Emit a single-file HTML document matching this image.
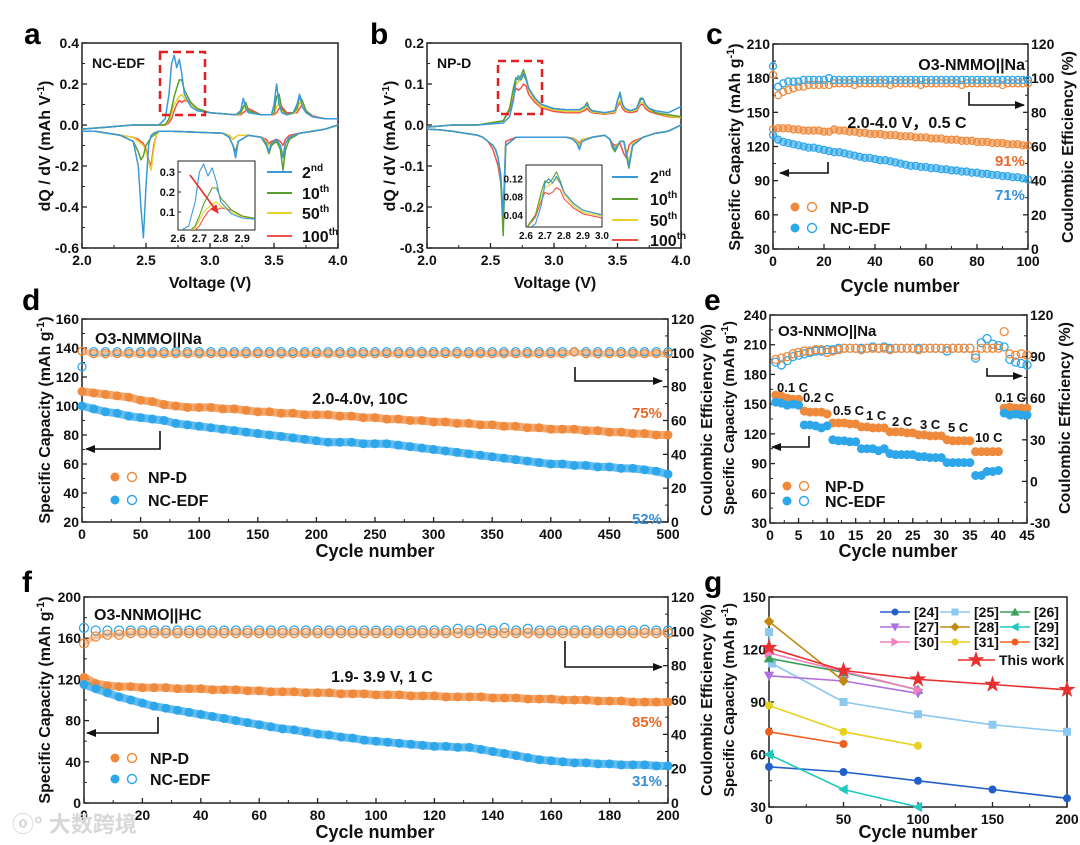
<!DOCTYPE html>
<html><head><meta charset="utf-8">
<style>
html,body{margin:0;padding:0;background:#fff;}
svg{display:block;font-family:"Liberation Sans",Arial,sans-serif;font-weight:bold;}
</style></head>
<body>
<svg id="fig" width="1080" height="845" viewBox="0 0 1080 845" xmlns="http://www.w3.org/2000/svg">
<defs>
<marker id="ah" markerWidth="10" markerHeight="8" refX="9" refY="4" orient="auto" markerUnits="userSpaceOnUse"><path d="M0,0 L10,4 L0,8 z" fill="#111"/></marker>
<marker id="ahr" markerWidth="9" markerHeight="8" refX="8" refY="4" orient="auto" markerUnits="userSpaceOnUse"><path d="M0,0 L9,4 L0,8 z" fill="#e8302a"/></marker>
<clipPath id="clipA"><rect x="178" y="161" width="77" height="69"/></clipPath>
<clipPath id="clipB"><rect x="526" y="165" width="76" height="62"/></clipPath>
</defs>
</svg>
<script>
// ---------- DATA ----------
const aChgV = [2.0,2.2,2.4,2.6,2.65,2.68,2.70,2.72,2.74,2.76,2.78,2.80,2.85,2.9,3.0,3.1,3.2,3.24,3.26,3.28,3.3,3.4,3.48,3.5,3.52,3.54,3.56,3.6,3.65,3.68,3.7,3.72,3.75,3.8,3.9,4.0];
const aDisV = [2.0,2.1,2.2,2.3,2.4,2.44,2.46,2.48,2.50,2.52,2.54,2.56,2.58,2.6,2.62,2.7,2.9,3.1,3.15,3.18,3.2,3.22,3.3,3.4,3.44,3.46,3.48,3.52,3.55,3.57,3.59,3.62,3.7,3.8,3.9,4.0];
const cycleNames = ["2nd","10th","50th","100th"];
const aChg2 = [-0.02,-0.01,0,0.0,0.03,0.15,0.30,0.34,0.28,0.32,0.25,0.15,0.09,0.07,0.06,0.055,0.05,0.07,0.13,0.08,0.06,0.05,0.05,0.10,0.20,0.10,0.06,0.05,0.06,0.10,0.15,0.09,0.06,0.04,0.03,0.03];
const aChg10 = [-0.02,-0.01,0,0,0.0,0.03,0.08,0.14,0.18,0.22,0.22,0.17,0.11,0.08,0.06,0.055,0.05,0.06,0.09,0.11,0.07,0.05,0.05,0.06,0.14,0.15,0.08,0.05,0.06,0.08,0.14,0.12,0.07,0.04,0.03,0.03];
const aChg50 = [-0.02,-0.01,0,0,0.0,0.02,0.06,0.10,0.12,0.14,0.15,0.13,0.10,0.075,0.06,0.055,0.05,0.055,0.08,0.09,0.065,0.05,0.05,0.055,0.09,0.11,0.07,0.05,0.055,0.07,0.11,0.10,0.065,0.04,0.03,0.03];
const aChg100 = [-0.02,-0.01,0,0,0.0,0.01,0.03,0.07,0.10,0.12,0.11,0.12,0.11,0.08,0.06,0.055,0.05,0.05,0.06,0.07,0.08,0.05,0.05,0.05,0.06,0.08,0.09,0.06,0.06,0.06,0.08,0.10,0.07,0.045,0.03,0.03];
const aDis2 = [-0.03,-0.03,-0.04,-0.05,-0.08,-0.2,-0.4,-0.55,-0.3,-0.1,-0.05,-0.04,-0.035,-0.03,-0.03,-0.03,-0.035,-0.04,-0.06,-0.1,-0.16,-0.08,-0.05,-0.06,-0.09,-0.13,-0.09,-0.07,-0.1,-0.16,-0.09,-0.06,-0.04,-0.03,-0.02,0.0];
const aDis10 = [-0.03,-0.03,-0.04,-0.05,-0.08,-0.13,-0.17,-0.15,-0.1,-0.08,-0.06,-0.05,-0.04,-0.03,-0.03,-0.03,-0.035,-0.04,-0.06,-0.1,-0.13,-0.08,-0.05,-0.06,-0.1,-0.14,-0.1,-0.08,-0.12,-0.22,-0.12,-0.07,-0.04,-0.03,-0.02,0.0];
const aDis50 = [-0.03,-0.03,-0.04,-0.05,-0.06,-0.08,-0.09,-0.1,-0.13,-0.18,-0.22,-0.12,-0.05,-0.03,-0.03,-0.03,-0.035,-0.04,-0.05,-0.07,-0.06,-0.05,-0.05,-0.06,-0.08,-0.1,-0.09,-0.08,-0.1,-0.14,-0.09,-0.06,-0.04,-0.03,-0.02,0.0];
const aDis100 = [-0.03,-0.03,-0.04,-0.05,-0.06,-0.07,-0.08,-0.09,-0.12,-0.17,-0.2,-0.1,-0.05,-0.03,-0.03,-0.03,-0.035,-0.04,-0.05,-0.07,-0.06,-0.05,-0.05,-0.06,-0.07,-0.09,-0.08,-0.07,-0.08,-0.1,-0.07,-0.05,-0.04,-0.03,-0.02,0.0];

const bChg2 = [-0.005,0,0,0.005,0.02,0.06,0.11,0.12,0.11,0.125,0.11,0.09,0.065,0.05,0.04,0.037,0.037,0.045,0.05,0.04,0.035,0.03,0.035,0.06,0.08,0.05,0.04,0.035,0.04,0.06,0.065,0.05,0.04,0.035,0.03,0.045];
const bChg10 = [-0.005,0,0,0.01,0.04,0.09,0.115,0.11,0.12,0.135,0.115,0.09,0.065,0.05,0.04,0.037,0.037,0.045,0.055,0.04,0.035,0.03,0.035,0.06,0.075,0.05,0.04,0.035,0.04,0.065,0.065,0.05,0.04,0.03,0.025,0.02];
const bChg50 = [-0.005,0,0,0.01,0.04,0.08,0.10,0.105,0.11,0.12,0.11,0.085,0.06,0.045,0.037,0.033,0.033,0.04,0.045,0.037,0.032,0.028,0.032,0.05,0.06,0.045,0.037,0.033,0.037,0.055,0.055,0.045,0.037,0.03,0.022,0.018];
const bChg100 = [-0.005,0,0,0.01,0.035,0.07,0.09,0.085,0.09,0.10,0.095,0.075,0.055,0.042,0.033,0.03,0.03,0.035,0.04,0.033,0.03,0.026,0.03,0.045,0.055,0.04,0.033,0.03,0.033,0.05,0.05,0.04,0.033,0.028,0.02,0.018];
const bDis2 = [-0.01,-0.012,-0.015,-0.02,-0.025,-0.03,-0.035,-0.04,-0.045,-0.05,-0.06,-0.08,-0.12,-0.22,-0.05,-0.03,-0.03,-0.03,-0.035,-0.045,-0.06,-0.04,-0.03,-0.025,-0.035,-0.05,-0.06,-0.04,-0.04,-0.07,-0.1,-0.05,-0.03,-0.02,-0.015,0.0];
const bDis10 = [-0.01,-0.012,-0.015,-0.02,-0.025,-0.03,-0.035,-0.04,-0.045,-0.05,-0.06,-0.08,-0.13,-0.27,-0.05,-0.03,-0.03,-0.03,-0.035,-0.045,-0.058,-0.04,-0.03,-0.025,-0.035,-0.055,-0.065,-0.04,-0.04,-0.075,-0.105,-0.05,-0.03,-0.02,-0.015,0.0];
const bDis50 = [-0.01,-0.012,-0.015,-0.02,-0.025,-0.03,-0.035,-0.04,-0.045,-0.05,-0.06,-0.08,-0.13,-0.25,-0.05,-0.03,-0.03,-0.03,-0.033,-0.04,-0.05,-0.035,-0.03,-0.025,-0.035,-0.05,-0.055,-0.04,-0.04,-0.065,-0.09,-0.045,-0.03,-0.02,-0.015,0.0];
const bDis100 = [-0.01,-0.012,-0.015,-0.02,-0.025,-0.03,-0.035,-0.04,-0.05,-0.06,-0.08,-0.1,-0.14,-0.22,-0.04,-0.03,-0.03,-0.03,-0.032,-0.038,-0.045,-0.035,-0.03,-0.025,-0.035,-0.045,-0.05,-0.045,-0.07,-0.08,-0.05,-0.04,-0.03,-0.02,-0.015,0.0];

// panel c (cycles 0..100 every 2)
const cCapNPD = [135,136,136,136,135,135,134,134,134,134,133,133,135,134,134,133,133,132,132,131,131,131,130,130,130,129,129,129,128,128,128,127,127,127,126,126,126,125,125,125,124,124,124,123,123,123,122,122,122,121,121];
const cCapNC = [130,126,124,123,122,121,120,119,119,118,117,116,115,115,114,113,112,111,110,110,109,108,108,107,106,105,104,103,103,102,102,101,101,100,100,99,99,98,98,97,97,96,96,95,95,94,94,93,93,92,91];
const cCENPD = [102,90,92,93,94,95,95,96,96,96,96,96,97,97,97,97,96,97,97,97,97,97,97,96,97,97,97,97,97,96,97,97,97,97,97,97,97,96,97,97,97,97,97,97,97,96,97,97,97,97,97];
const cCENC = [107,95,97,98,98,98,99,99,99,99,99,100,99,99,99,99,99,99,99,99,99,99,99,99,99,99,99,99,99,99,99,99,99,99,99,99,99,99,99,99,99,99,99,99,99,99,99,99,99,99,99];

// panel d (cycles 0..500 every 10)
const dCapNPD = [110,109,108,107,106,104,103,101,100,99,99,99,98,98,97,96,96,95,95,94,94,94,93,93,92,92,91,91,90,90,89,89,88,88,87,87,86,86,85,85,84,84,84,83,83,82,82,81,81,80,80];
const dCapNC = [100,98,96,95,93,92,91,90,88,87,86,85,84,83,82,81,80,79,78,77,76,75,75,75,74,74,74,73,72,71,70,69,68,67,66,65,64,63,62,61,60,60,59,59,58,58,57,57,56,55,53];
const dCENPD = [101,99.5,99.5,99.5,99.5,99.5,99.5,99.5,99.5,99.5,99.5,99.5,99.5,99.5,99.5,99.5,99.5,99.5,99.5,99.5,99.5,99.5,99.5,99.5,99.5,99.5,99.5,99.5,99.5,99.5,99.5,99.5,99.5,99.5,99.5,99.5,99.5,99.5,99.5,99.5,99.5,99.5,100.5,99.5,99.5,99.5,99.5,99.5,99.5,99.5,99.5];
const dCENC = [91.7,100.7,100.7,100.7,100.7,100.7,100.7,100.7,100.7,100.7,100.7,100.7,100.7,100.7,100.7,100.7,100.7,100.7,100.7,100.7,100.7,100.7,100.7,100.7,100.7,100.7,100.7,100.7,100.7,100.7,100.7,100.7,100.7,100.7,100.7,100.7,100.7,100.7,100.7,100.7,100.7,100.7,100.7,100.7,100.7,100.7,100.7,100.7,100.7,100.7,100.7];

// panel e (cycles 1..45)
const eCapNPD = [159,158,156,155,155,143,142,142,142,140,131,131,131,130,130,127,127,126,126,126,122,122,122,121,121,119,119,118,118,118,114,113,113,113,113,102,102,102,102,102,146,147,146,146,146];
const eCapNC = [152,151,149,150,149,129,129,128,126,128,114,113,113,112,112,105,105,105,103,105,100,99,99,99,99,97,97,96,96,96,91,91,91,91,91,78,78,82,82,83,141,139,140,139,139];
const eCENPD = [88,89,90,92,93,94,94,95,95,93,94,95,96,96,96,95,96,96,96,96,95,96,96,96,96,95,96,96,96,96,96,96,96,96,96,91,96,96,96,96,108,92,91,92,91];
const eCENC = [86,84,87,90,91,92,93,94,94,95,95,96,96,96,96,96,96,97,96,97,96,96,96,96,96,96,96,96,96,96,94,96,96,96,96,89,100,103,99,98,97,88,86,85,84];
const eRates = ["0.1 C","0.2 C","0.5 C","1 C","2 C","3 C","5 C","10 C","0.1 C"];

// panel f (cycles 0..200 every 4)
const fCapNPD = [122,116,114,113,113,112,112,112,111,111,111,110,110,110,109,109,108,108,108,107,107,107,106,106,106,105,105,105,104,104,104,103,103,103,103,102,102,102,101,101,101,100,100,100,99,99,99,98,98,98,98];
const fCapNC = [115,111,107,103,100,97,94,92,90,88,86,84,82,80,78,76,74,72,71,69,67,66,64,63,61,60,59,58,57,56,55,55,54,54,52,50,48,46,44,42,41,40,39,39,38,38,37,37,37,36,36];
const fCENPD = [93,97,98,98,99,99,99,99,99,99,99,99,99,99,99,99,99,99,99,99,99,99,99,99,99,99,99,99,99,99,99,99,99,99,99,99,99,99,99,99,99,99,99,99,99,99,99,99,99,99,99];
const fCENC = [102,100.5,100.5,100.5,100.5,100.5,100.5,100.5,100.5,100.5,100.5,100.5,100.5,100.5,100.5,100.5,100.5,100.5,100.5,100.5,100.5,100.5,100.5,100.5,100.5,100.5,100.5,100.5,100.5,100.5,100.5,100.5,101.5,100.5,101.5,100.5,102,100.5,101.5,100.5,100.5,100.5,100.5,100.5,100.5,100.5,100.5,100.5,101,100.5,100.5];

// panel g
const gRefs = ["[24]","[25]","[26]","[27]","[28]","[29]","[30]","[31]","[32]","This work"];
const gX24=[0,50,100,150,200], gY24=[53,50,45,40,35];
const gX25=[0,2,50,100,150,200], gY25=[130,112,90,83,77,73];
const gX26=[0,50,100], gY26=[115,107,97];
const gX27=[0,50,100], gY27=[105,102,95];
const gX28=[0,50], gY28=[136,102];
const gX29=[0,50,100], gY29=[60,40,30];
const gX30=[0,100], gY30=[118,97];
const gX31=[0,50,100], gY31=[88,73,65];
const gX32=[0,50], gY32=[73,66];
const gXTW=[0,50,100,150,200], gYTW=[121,108,103,100,97];

// ---------- DRAW ----------
const NS="http://www.w3.org/2000/svg";
const svg=document.getElementById('fig');
function el(tag,attrs,parent){const e=document.createElementNS(NS,tag);for(const k in attrs)e.setAttribute(k,attrs[k]);(parent||svg).appendChild(e);return e;}
function lin(d0,d1,r0,r1){return v=>r0+(v-d0)*(r1-r0)/(d1-d0);}
function txt(p,x,y,s,size,anchor,fill){const t=el('text',{x:x,y:y,'font-size':size,'text-anchor':anchor||'start',fill:fill||'#111'},p);t.textContent=s;return t;}
function rtxt(p,x,y,s,size){const t=el('text',{x:x,y:y,'font-size':size,'text-anchor':'middle',fill:'#111',transform:'rotate(-90 '+x+' '+y+')'},p);t.textContent=s;return t;}
function capTitle(p,x,y,size){const t=el('text',{x:x,y:y,'font-size':size,'text-anchor':'middle',fill:'#111',transform:'rotate(-90 '+x+' '+y+')'},p);
 t.appendChild(document.createTextNode('Specific Capacity (mAh g'));const s=el('tspan',{'font-size':size-5,dy:-6},t);s.textContent='-1';const s2=el('tspan',{dy:6},t);s2.textContent=')';return t;}
const COL={blue:'#3a9ad9',green:'#5a9e2e',yellow:'#e8d22a',red:'#f0504a',or:'#ef8a3c',sb:'#2ea6ea'};

function panelLetter(x,y,s){const t=txt(svg,x,y,s,30,'start','#000');
 
 }

function axes(g,b,xr,yr,xt,xl,yt,yl,opt){
 opt=opt||{};
 const X=lin(xr[0],xr[1],b.x0,b.x1),Y=lin(yr[0],yr[1],b.y1,b.y0);
 const fr=el('rect',{x:b.x0,y:b.y0,width:b.x1-b.x0,height:b.y1-b.y0,fill:'none',stroke:'#222','stroke-width':1.5},g);
 
 
 const fs=opt.fs||14;
 xt.forEach((v,i)=>{const x=X(v);el('line',{x1:x,x2:x,y1:b.y1,y2:b.y1-5,stroke:'#222','stroke-width':1.3},g);
  if(i<xt.length-1){const m=X((v+xt[i+1])/2);el('line',{x1:m,x2:m,y1:b.y1,y2:b.y1-3,stroke:'#222','stroke-width':1},g);}
  const t=txt(g,x,b.y1+17,xl[i],fs,'middle');
  
  });
 yt.forEach((v,i)=>{const y=Y(v);el('line',{x1:b.x0,x2:b.x0+5,y1:y,y2:y,stroke:'#222','stroke-width':1.3},g);
  if(i<yt.length-1){const m=Y((v+yt[i+1])/2);el('line',{x1:b.x0,x2:b.x0+3,y1:m,y2:m,stroke:'#222','stroke-width':1},g);}
  if(yl[i]!==''){const t=txt(g,b.x0-3,y+5,yl[i],fs,'end');
  
  }});
 return {X,Y};
}
function rightAxis(g,b,yr,yt,yl){
 const Y=lin(yr[0],yr[1],b.y1,b.y0);
 yt.forEach((v,i)=>{const y=Y(v);el('line',{x1:b.x1,x2:b.x1-5,y1:y,y2:y,stroke:'#222','stroke-width':1.3},g);
  if(i<yt.length-1){const m=Y((v+yt[i+1])/2);el('line',{x1:b.x1,x2:b.x1-3,y1:m,y2:m,stroke:'#222','stroke-width':1},g);}
  const t=txt(g,b.x1+3,y+5,yl[i],14,'start');
  
  });
 return Y;
}
function poly(g,xs,ys,X,Y,color,w,extra){const pts=xs.map((x,i)=>X(x).toFixed(1)+','+Y(ys[i]).toFixed(1)).join(' ');
 const a={points:pts,fill:'none',stroke:color,'stroke-width':w,'stroke-linejoin':'round'};if(extra)Object.assign(a,extra);return el('polyline',a,g);}
function dots(g,xs,ys,X,Y,color,filled,r,name){
 xs.forEach((x,i)=>{const c=el('circle',{cx:X(x),cy:Y(ys[i]),r:r,fill:filled?color:'none',stroke:color,'stroke-width':filled?1:1.3},g);
 
 });
}
function arrow(g,pts,red){const p=el('polyline',{points:pts,fill:'none',stroke:red?'#e8302a':'#111','stroke-width':1.6,'marker-end':red?'url(#ahr)':'url(#ah)'},g);
 
 }

function legendCycle(g,x0,x1,tx,ys){
 const cols=[COL.blue,COL.green,COL.yellow,COL.red];
 cycleNames.forEach((n,i)=>{const l=el('line',{x1:x0,x2:x1,y1:ys[i],y2:ys[i],stroke:cols[i],'stroke-width':2},g);
  
  
  const t=el('text',{x:tx,y:ys[i]+6,'font-size':16,fill:'#111'},g);
  const m=n.match(/^(\d+)(\D+)$/);t.appendChild(document.createTextNode(m[1]));const s=el('tspan',{'font-size':10,dy:-7},t);s.textContent=m[2];
  
  });
}

// ===== Panel a =====
(function(){
 const g=el('g',{});
 panelLetter(24,44,'a');
 const b={x0:82,x1:338,y0:43,y1:248};
 const {X,Y}=axes(g,b,[2,4],[-0.6,0.4],[2,2.5,3,3.5,4],['2.0','2.5','3.0','3.5','4.0'],[-0.6,-0.4,-0.2,0,0.2,0.4],['-0.6','-0.4','-0.2','0.0','0.2','0.4']);
 const ch=[aChg2,aChg10,aChg50,aChg100],ds=[aDis2,aDis10,aDis50,aDis100],cols=[COL.blue,COL.green,COL.yellow,COL.red];
 [3,2,1,0].forEach(i=>{const p=poly(g,aChgV,ch[i],X,Y,cols[i],1.5);
  const q=poly(g,aDisV,ds[i],X,Y,cols[i],1.5);});
 const bx=el('rect',{x:160,y:52,width:45,height:63,fill:'none',stroke:'#e02020','stroke-width':2.5,'stroke-dasharray':'8,5'},g);
 
 const nt=txt(g,92,68,'NC-EDF',14,'start');
 const ib={x0:178,x1:255,y0:161,y1:230};
 const ig=el('g',{},g);
 el('rect',{x:ib.x0,y:ib.y0,width:77,height:69,fill:'#fff',stroke:'#222','stroke-width':1},ig);
 const IX=lin(2.6,2.96,ib.x0,ib.x1),IY=lin(0.01,0.355,ib.y1,ib.y0);
 const cg=el('g',{'clip-path':'url(#clipA)'},ig);
 [3,2,1,0].forEach(i=>poly(cg,aChgV,ch[i],IX,IY,cols[i],1.1));
 [0.1,0.2,0.3].forEach(v=>{txt(ig,ib.x0-3,IY(v)+4,v.toFixed(1),11,'end');el('line',{x1:ib.x0,x2:ib.x0+3,y1:IY(v),y2:IY(v),stroke:'#222'},ig);});
 [2.6,2.7,2.8,2.9].forEach(v=>{txt(ig,IX(v),ib.y1+12,v.toFixed(1),11,'middle');});
 arrow(ig,'190,175 218,213',true);
 legendCycle(g,267,292,302,[172,193,213,236]);
 const xt=txt(g,210,288,'Voltage (V)',16,'middle');
 const yt=el('text',{x:50,y:146,'font-size':16,'text-anchor':'middle',fill:'#111',transform:'rotate(-90 50 146)'},g);
 yt.appendChild(document.createTextNode('dQ / dV (mAh V'));const s=el('tspan',{'font-size':10,dy:-6},yt);s.textContent='-1';const s2=el('tspan',{dy:6},yt);s2.textContent=')';
 
})();

// ===== Panel b =====
(function(){
 const g=el('g',{});
 panelLetter(370,44,'b');
 const b={x0:427,x1:681,y0:43,y1:248};
 const {X,Y}=axes(g,b,[2,4],[-0.3,0.2],[2,2.5,3,3.5,4],['2.0','2.5','3.0','3.5','4.0'],[-0.3,-0.2,-0.1,0,0.1,0.2],['-0.3','-0.2','-0.1','0.0','0.1','0.2']);
 const ch=[bChg2,bChg10,bChg50,bChg100],ds=[bDis2,bDis10,bDis50,bDis100],cols=[COL.blue,COL.green,COL.yellow,COL.red];
 [3,2,1,0].forEach(i=>{const p=poly(g,aChgV,ch[i],X,Y,cols[i],1.5);
  const q=poly(g,aDisV,ds[i],X,Y,cols[i],1.5);});
 const bx=el('rect',{x:498,y:61,width:44,height:53,fill:'none',stroke:'#e02020','stroke-width':2.5,'stroke-dasharray':'8,5'},g);
 
 const nt=txt(g,437,68,'NP-D',14,'start');
 const ib={x0:526,x1:602,y0:165,y1:227};
 const ig=el('g',{},g);
 el('rect',{x:ib.x0,y:ib.y0,width:76,height:62,fill:'#fff',stroke:'#222','stroke-width':1},ig);
 const IX=lin(2.6,3.0,ib.x0,ib.x1),IY=lin(0.013,0.15,ib.y1,ib.y0);
 const cg=el('g',{'clip-path':'url(#clipB)'},ig);
 [3,2,1,0].forEach(i=>poly(cg,aChgV,ch[i],IX,IY,cols[i],1.1));
 [0.04,0.08,0.12].forEach(v=>{txt(ig,ib.x0-3,IY(v)+4,v.toFixed(2),10,'end');});
 [2.6,2.7,2.8,2.9,3.0].forEach(v=>{txt(ig,IX(v),ib.y1+12,v.toFixed(1),10,'middle');});
 legendCycle(g,612,638,650,[177,199,220,240]);
 const xt=txt(g,555,288,'Voltage (V)',16,'middle');
 const yt=el('text',{x:395,y:146,'font-size':16,'text-anchor':'middle',fill:'#111',transform:'rotate(-90 395 146)'},g);
 yt.appendChild(document.createTextNode('dQ / dV (mAh V'));const s=el('tspan',{'font-size':10,dy:-6},yt);s.textContent='-1';const s2=el('tspan',{dy:6},yt);s2.textContent=')';
 
})();

function capLegend(g,mx,tx,y1,y2){
 [[COL.or,'NP-D',y1],[COL.sb,'NC-EDF',y2]].forEach(a=>{
  el('circle',{cx:mx,cy:a[2],r:4.5,fill:a[0]},g);el('circle',{cx:mx+17,cy:a[2],r:4.5,fill:'none',stroke:a[0],'stroke-width':1.4},g);
  const t=txt(g,tx,a[2]+6,a[1],16,'start');
  
  });
}

// ===== Panel c =====
(function(){
 const g=el('g',{});
 panelLetter(706,44,'c');
 const b={x0:773,x1:1028,y0:44,y1:249};
 const {X,Y}=axes(g,b,[0,100],[30,210],[0,20,40,60,80,100],['0','20','40','60','80','100'],[30,60,90,120,150,180,210],['30','60','90','120','150','180','210']);
 const YR=rightAxis(g,b,[0,120],[0,20,40,60,80,100,120],['0','20','40','60','80','100','120']);
 const cyc=cCapNPD.map((_,i)=>i*2);
 dots(g,cyc,cCENPD,X,YR,COL.or,false,3.5,'ce-point-npd');
 dots(g,cyc,cCENC,X,YR,COL.sb,false,3.5,'ce-point-ncedf');
 poly(g,cyc,cCapNPD,X,Y,COL.or,5,{opacity:0.6});
 poly(g,cyc,cCapNC,X,Y,COL.sb,5,{opacity:0.6});
 dots(g,cyc,cCapNPD,X,Y,COL.or,false,3.5,'capacity-point-npd');
 dots(g,cyc,cCapNC,X,Y,COL.sb,false,3.5,'capacity-point-ncedf');
 txt(g,1025,70,'O3-NMMO||Na',16,'end');
 txt(g,907,128,'2.0-4.0 V，0.5 C',16,'middle');
 arrow(g,'969,92 969,105 1024,105');
 arrow(g,'828,162 828,173 780,173');
 txt(g,1025,166,'91%',15,'end','#e8692a');
 txt(g,1025,200,'71%',15,'end','#3a8fd6');
 capLegend(g,795,830,207,228);
 txt(g,900,292,'Cycle number',18,'middle');
 capTitle(g,740,147,16);
 rtxt(g,1073,147,'Coulombic Efficiency (%)',16);
})();

// ===== Panel d =====
(function(){
 const g=el('g',{});
 panelLetter(22,310,'d');
 const b={x0:82,x1:668,y0:319,y1:522};
 const xs=[0,50,100,150,200,250,300,350,400,450,500];
 const {X,Y}=axes(g,b,[0,500],[20,160],xs,xs.map(String),[20,40,60,80,100,120,140,160],['20','40','60','80','100','120','140','160']);
 const YR=rightAxis(g,b,[0,120],[0,20,40,60,80,100,120],['0','20','40','60','80','100','120']);
 const cyc=dCapNPD.map((_,i)=>i*10);
 poly(g,cyc,dCENPD,X,YR,COL.or,6,{opacity:0.55});
 dots(g,cyc,dCENC,X,YR,COL.sb,false,4,'ce-point-ncedf');
 dots(g,cyc,dCENPD,X,YR,COL.or,false,4,'ce-point-npd');
 poly(g,cyc,dCapNPD,X,Y,COL.or,8,{opacity:0.75});
 poly(g,cyc,dCapNC,X,Y,COL.sb,8,{opacity:0.75});
 dots(g,cyc,dCapNPD,X,Y,COL.or,true,4,'capacity-point-npd');
 dots(g,cyc,dCapNC,X,Y,COL.sb,true,4,'capacity-point-ncedf');
 txt(g,95,344,'O3-NMMO||Na',16,'start');
 txt(g,360,404,'2.0-4.0v, 10C',16,'middle');
 arrow(g,'575,367 575,381 662,381');
 arrow(g,'160,431 160,449 86,449');
 txt(g,662,418,'75%',15,'end','#e8692a');
 txt(g,662,524,'52%',15,'end','#3a8fd6');
 capLegend(g,115,148,477,500);
 txt(g,375,557,'Cycle number',18,'middle');
 capTitle(g,50,420,16);
 rtxt(g,712,420,'Coulombic Efficiency (%)',16);
})();

// ===== Panel e =====
(function(){
 const g=el('g',{});
 panelLetter(704,310,'e');
 const b={x0:770,x1:1027,y0:315,y1:523};
 const xs=[0,5,10,15,20,25,30,35,40,45];
 const {X,Y}=axes(g,b,[0,45],[30,240],xs,xs.map(String),[30,60,90,120,150,180,210,240],['30','60','90','120','150','180','210','240']);
 const YR=rightAxis(g,b,[-30,120],[-30,0,30,60,90,120],['-30','0','30','60','90','120']);
 const cyc=eCapNPD.map((_,i)=>i+1);
 dots(g,cyc,eCENC,X,YR,COL.sb,false,4,'ce-point-ncedf');
 dots(g,cyc,eCENPD,X,YR,COL.or,false,4,'ce-point-npd');
 dots(g,cyc,eCapNPD,X,Y,COL.or,true,4,'capacity-point-npd');
 dots(g,cyc,eCapNC,X,Y,COL.sb,true,4,'capacity-point-ncedf');
 txt(g,778,336,'O3-NNMO||Na',15,'start');
 const rp=[[777,392],[803,402],[833,415],[866,420],[892,426],[920,429],[948,432],[975,442],[995,402]];
 eRates.forEach((r,i)=>{const t=txt(g,rp[i][0],rp[i][1],r,13,'start');
  
  });
 arrow(g,'987,368 987,376 1022,376');
 arrow(g,'809,436 809,447 772,447');
 capLegend(g,787,825,486,501);
 txt(g,898,557,'Cycle number',18,'middle');
 capTitle(g,734,418,15);
 rtxt(g,1070,418,'Coulombic Efficiency (%)',16);
})();

// ===== Panel f =====
(function(){
 const g=el('g',{});
 panelLetter(22,592,'f');
 const b={x0:84,x1:668,y0:597,y1:803};
 const xs=[0,20,40,60,80,100,120,140,160,180,200];
 const {X,Y}=axes(g,b,[0,200],[0,200],xs,xs.map(String),[0,40,80,120,160,200],['0','40','80','120','160','200']);
 const YR=rightAxis(g,b,[0,120],[0,20,40,60,80,100,120],['0','20','40','60','80','100','120']);
 const cyc=fCapNPD.map((_,i)=>i*4);
 dots(g,cyc,fCENC,X,YR,COL.sb,false,4.5,'ce-point-ncedf');
 poly(g,cyc,fCENPD,X,YR,COL.or,5,{opacity:0.5});
 dots(g,cyc,fCENPD,X,YR,COL.or,false,4.5,'ce-point-npd');
 poly(g,cyc,fCapNPD,X,Y,COL.or,8,{opacity:0.75});
 poly(g,cyc,fCapNC,X,Y,COL.sb,8,{opacity:0.75});
 dots(g,cyc,fCapNPD,X,Y,COL.or,true,4,'capacity-point-npd');
 dots(g,cyc,fCapNC,X,Y,COL.sb,true,4,'capacity-point-ncedf');
 txt(g,94,620,'O3-NNMO||HC',16,'start');
 txt(g,382,682,'1.9- 3.9 V, 1 C',16,'middle');
 arrow(g,'565,641 565,667 662,667');
 arrow(g,'158,717 158,733 87,733');
 txt(g,662,727,'85%',15,'end','#e8692a');
 txt(g,662,786,'31%',15,'end','#3a8fd6');
 capLegend(g,115,150,758,779);
 txt(g,375,838,'Cycle number',18,'middle');
 capTitle(g,50,700,16);
 rtxt(g,712,700,'Coulombic Efficiency (%)',16);
 const wm=txt(svg,12,832,'\u24DE\u00B0 大数跨境',22,'start','#d8d8d8');
 wm.setAttribute('font-family','"Liberation Sans","Noto Sans CJK SC",sans-serif');
 
 
})();

// ===== Panel g =====
(function(){
 const g=el('g',{});
 panelLetter(704,592,'g');
 const b={x0:769,x1:1067,y0:597,y1:807};
 const xs=[0,50,100,150,200];
 const {X,Y}=axes(g,b,[0,200],[30,150],xs,xs.map(String),[30,60,90,120,150],['30','60','90','120','150']);
 const cols=['#2060c8','#8dc8f0','#3ca060','#b070e0','#c08a10','#20c8c0','#f080c0','#e8d020','#f06020','#e83030'];
 const shapes=['c','s','t','v','d','l','r','c','c','star'];
 const XS=[gX24,gX25,gX26,gX27,gX28,gX29,gX30,gX31,gX32,gXTW],YS=[gY24,gY25,gY26,gY27,gY28,gY29,gY30,gY31,gY32,gYTW];
 function mark(p,x,y,sh,c,sz){
  let e;
  if(sh==='c')e=el('circle',{cx:x,cy:y,r:sz,fill:c},p);
  else if(sh==='s')e=el('rect',{x:x-sz,y:y-sz,width:2*sz,height:2*sz,fill:c},p);
  else{let pts;const s=sz*1.3;
   if(sh==='t')pts=[[0,-s],[s,s*0.8],[-s,s*0.8]];
   else if(sh==='v')pts=[[0,s],[s,-s*0.8],[-s,-s*0.8]];
   else if(sh==='d')pts=[[0,-s],[s,0],[0,s],[-s,0]];
   else if(sh==='l')pts=[[-s,0],[s*0.8,-s],[s*0.8,s]];
   else if(sh==='r')pts=[[s,0],[-s*0.8,-s],[-s*0.8,s]];
   else{pts=[];for(let k=0;k<10;k++){const rr=k%2?s*0.45:s*1.15,a=-Math.PI/2+k*Math.PI/5;pts.push([rr*Math.cos(a),rr*Math.sin(a)]);}}
   e=el('polygon',{points:pts.map(q=>(x+q[0]).toFixed(1)+','+(y+q[1]).toFixed(1)).join(' '),fill:c},p);}
  return e;
 }
 XS.forEach((xa,i)=>{
  const l=poly(g,xa,YS[i],X,Y,cols[i],1.6);
  
  
  xa.forEach((x,j)=>{const m=mark(g,X(x),Y(YS[i][j]),shapes[i],cols[i],i===9?6:4);
   
   });
 });
 const lx=[880,940,1000],ly=[612,627,642];
 for(let i=0;i<9;i++){const cx=lx[i%3],cy=ly[Math.floor(i/3)];
  el('line',{x1:cx,x2:cx+30,y1:cy,y2:cy,stroke:cols[i],'stroke-width':1.6},g);mark(g,cx+15,cy,shapes[i],cols[i],3.5);
  const t=txt(g,cx+34,cy+5,gRefs[i],14,'start');
  
  }
 el('line',{x1:958,x2:995,y1:660,y2:660,stroke:cols[9],'stroke-width':1.6},g);mark(g,976,660,'star',cols[9],6);
 const tw=txt(g,999,665,'This work',14,'start');
 
 
 txt(g,918,838,'Cycle number',18,'middle');
 capTitle(g,734,700,15);
})();
</script>
</body></html>
